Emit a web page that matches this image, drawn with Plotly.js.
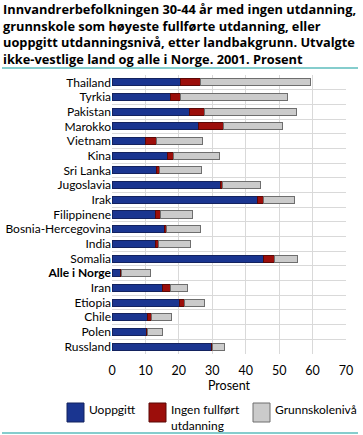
<!DOCTYPE html>
<html>
<head>
<meta charset="utf-8">
<script src="https://cdn.plot.ly/plotly-3.0.1.min.js"></script>
<style>html,body{margin:0;padding:0;background:#fff;}#chart{width:363px;height:435px;}</style>
</head>
<body>
<div id="chart"></div>
<script>
const countries = ["Thailand","Tyrkia","Pakistan","Marokko","Vietnam","Kina","Sri Lanka","Jugoslavia","Irak","Filippinene","Bosnia-Hercegovina","India","Somalia","Alle i Norge","Iran","Etiopia","Chile","Polen","Russland"];
const tickLabels = ["Thailand","Tyrkia","Pakistan","Marokko","Vietnam","Kina","Sri Lanka","Jugoslavia","Irak","Filippinene","Bosnia-Hercegovina","India","Somalia","<b>Alle i Norge</b>","Iran","Etiopia","Chile","Polen","Russland"];
const uoppgitt =   [20.5,17.4,23.1,25.9,10.1,16.6,13.3,32.4,43.5,13.0,15.8,13.1,45.3,2.6,15.1,20.3,10.7,10.4,29.9];
const ingenFullfort = [6.1,3.1,4.7,7.4,3.2,1.9,1.0,0.6,1.8,1.6,0.6,0.9,3.4,0.2,2.5,1.5,1.0,0.3,0.1];
const grunnskole = [32.7,32.1,27.5,17.6,13.8,13.6,12.4,11.3,9.4,9.4,10.2,9.4,6.8,8.8,5.1,6.0,6.2,4.5,3.8];
const seriesNames = ["Uoppgitt","Ingen fullført<br>utdanning","Grunnskolenivå"];
const titleText = "Innvandrerbefolkningen 30-44 år med ingen utdanning,<br>grunnskole som høyeste fullførte utdanning, eller<br>uoppgitt utdanningsnivå, etter landbakgrunn. Utvalgte<br>ikke-vestlige land og alle i Norge. 2001. Prosent";
const xTitle = "Prosent";

const FONT = "Lato, 'Open Sans', sans-serif";
const TFONT = "'Open Sans', Lato, sans-serif";
const fills = ['#1a3590', '#9c0e0b', '#cbcbcb'];
const lines = ['#13225e', '#5a0806', '#6e6e6e'];
const mk = (vals, i) => ({
  type: 'bar', orientation: 'h', y: countries, x: vals, name: seriesNames[i],
  width: 0.48, showlegend: false,
  marker: {color: fills[i], line: {color: lines[i], width: 1}},
  hoverinfo: 'x+y'
});
const data = [mk(uoppgitt, 0), mk(ingenFullfort, 1), mk(grunnskole, 2)];

// plot area in pixels: x 112..346, y 75..354
const L = 112, R = 346, T = 75, B = 354;
const px = p => (p - L) / (R - L);
const py = q => (B - q) / (B - T);

// custom legend (swatches + labels)
const legSwatchX = [67, 149, 253];
const shapes = [
  {type: 'line', xref: 'paper', yref: 'paper', x0: px(2), x1: px(358), y0: py(68), y1: py(68), line: {color: '#5cbcbc', width: 1.5}},
  {type: 'line', xref: 'paper', yref: 'paper', x0: px(2), x1: px(358), y0: py(433), y1: py(433), line: {color: '#5cbcbc', width: 1.5}}
];
const annotations = [];
legSwatchX.forEach((sx, i) => {
  shapes.push({type: 'rect', xref: 'paper', yref: 'paper', x0: px(sx), x1: px(sx + 17), y0: py(422), y1: py(403),
    fillcolor: fills[i], line: {color: lines[i], width: 1}});
  annotations.push({text: seriesNames[i], xref: 'paper', yref: 'paper', x: px(sx + 20), y: py(400),
    xanchor: 'left', yanchor: 'top', align: 'left', showarrow: false,
    font: {family: FONT, size: 12, color: '#000'}});
});

const layout = {
  width: 363, height: 435,
  margin: {l: L, r: 363 - R, t: T, b: 435 - B, pad: 0},
  paper_bgcolor: '#fff', plot_bgcolor: '#fff',
  barmode: 'stack',
  font: {family: FONT, size: 12, color: '#000'},
  title: {
    text: '<b>' + titleText + '</b>', xref: 'container', yref: 'container',
    x: 3 / 363, xanchor: 'left', y: 1 - 14 / 435, yanchor: 'middle',
    font: {family: TFONT, size: 12.8, color: '#000'}
  },
  xaxis: {
    range: [0, 70], dtick: 10, tick0: 0, showgrid: true, gridcolor: '#d9d9d9', gridwidth: 1,
    zeroline: false, showline: false, ticks: 'outside', ticklen: 5, tickcolor: 'rgba(0,0,0,0)', fixedrange: true,
    tickfont: {family: FONT, size: 12.5, color: '#000'},
    title: {text: xTitle, font: {family: FONT, size: 12.5, color: '#000'}, standoff: 3}
  },
  yaxis: {
    type: 'category', autorange: 'reversed', tickmode: 'array', tickvals: countries, ticktext: tickLabels,
    tickson: 'boundaries', showgrid: true, gridcolor: '#d9d9d9', gridwidth: 1,
    showline: false, ticks: '', fixedrange: true,
    tickfont: {family: FONT, size: 12, color: '#000'}
  },
  showlegend: false,
  shapes: shapes,
  annotations: annotations
};
Plotly.newPlot('chart', data, layout, {displayModeBar: false, staticPlot: true});
</script>
</body>
</html>
